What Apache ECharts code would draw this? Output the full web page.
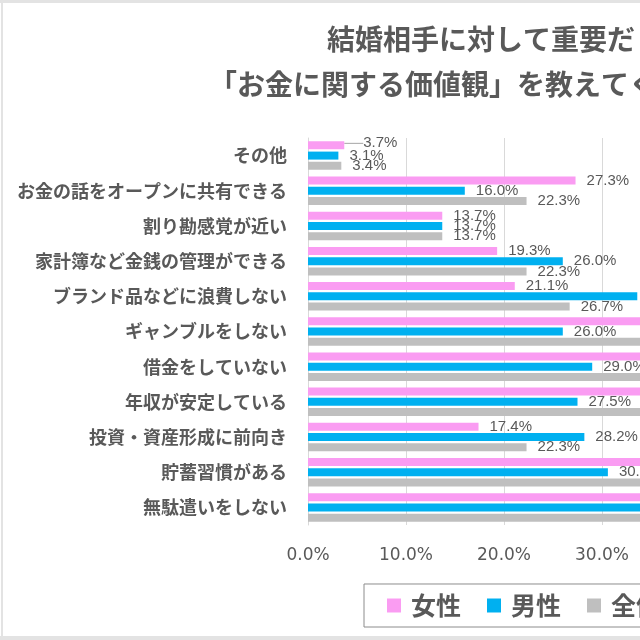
<!DOCTYPE html>
<html>
<head>
<meta charset="utf-8">
<script src="https://cdn.jsdelivr.net/npm/echarts@6/dist/echarts.min.js"></script>
<style>
  body { margin: 0; overflow: hidden; background: #fff; }
  #main { position: absolute; left: 0; top: 0; width: 1000px; height: 640px; }
  .edge { position: absolute; background: #e3e3e3; }
</style>
</head>
<body>
<div id="main"></div>
<div class="edge" style="left:0;top:0;width:640px;height:3px"></div>
<div class="edge" style="left:1px;top:0;width:2px;height:640px"></div>
<div class="edge" style="left:0;top:636px;width:640px;height:4px"></div>
<script>
// categories, top to bottom
var categories = [
    "その他",
    "お金の話をオープンに共有できる",
    "割り勘感覚が近い",
    "家計簿など金銭の管理ができる",
    "ブランド品などに浪費しない",
    "ギャンブルをしない",
    "借金をしていない",
    "年収が安定している",
    "投資・資産形成に前向き",
    "貯蓄習慣がある",
    "無駄遣いをしない"
];
var seriesNames = ["女性", "男性", "全体"];
var female = [3.7, 27.3, 13.7, 19.3, 21.1, 44.0, 42.0, 44.0, 17.4, 45.0, 50.0];
var male   = [3.1, 16.0, 13.7, 26.0, 33.6, 26.0, 29.0, 27.5, 28.2, 30.6, 40.0];
var total  = [3.4, 22.3, 13.7, 22.3, 26.7, 35.0, 35.5, 35.7, 22.3, 37.8, 45.0];
var xTicks = [0, 10, 20, 30, 40, 50, 60];

var colors = ["#FA9CF2", "#00B0F0", "#BFBFBF"];
var textColor = "#595959";

var chart = echarts.init(document.getElementById('main'));

function makeSeries(idx, values) {
    // the small "その他" label of 女性 is pushed aside with a leader line
    var data = values.map(function (v, i) {
        if (idx === 0 && i === 0) {
            return { value: v, labelLine: { show: true } };
        }
        return v;
    });
    return {
        name: seriesNames[idx],
        type: 'bar',
        data: data,
        barWidth: 8,
        barGap: '28%',
        itemStyle: { color: colors[idx] },
        label: {
            show: true,
            position: 'right',
            distance: 11,
            offset: [0, 1],
            color: textColor,
            fontSize: 15,
            fontFamily: 'Liberation Sans, Arial, sans-serif',
            formatter: function (p) { return p.value.toFixed(1) + '%'; }
        },
        labelLine: { show: false, lineStyle: { color: '#A6A6A6', width: 1 } },
        labelLayout: function (p) {
            if (p.seriesIndex === 0 && p.dataIndex === 0) {
                return { dx: 8, dy: -2 };
            }
        }
    };
}

var option = {
    animation: false,
    title: [
        {
            text: '結婚相手に対して重要だ',
            left: 327, top: 25, padding: 0,
            textStyle: { color: textColor, fontSize: 28, fontWeight: 'bold', fontFamily: 'Noto Sans CJK JP' }
        },
        {
            text: '「お金に関する価値観」を教えてく',
            left: 209, top: 70, padding: 0,
            textStyle: { color: textColor, fontSize: 28, fontWeight: 'bold', fontFamily: 'Noto Sans CJK JP' }
        }
    ],
    legend: {
        data: seriesNames,
        left: 364, bottom: 13,
        padding: [9, 20, 9, 23],
        borderColor: '#8c8c8c',
        borderWidth: 1,
        icon: 'rect',
        itemWidth: 14, itemHeight: 14,
        itemGap: 26,
        textStyle: { color: textColor, fontSize: 25, fontWeight: 'bold', fontFamily: 'Noto Sans CJK JP', padding: [0, 0, 0, 5] }
    },
    grid: { left: 308, top: 138, width: 588, height: 387, outerBoundsMode: 'none', containLabel: false },
    xAxis: {
        type: 'value',
        min: xTicks[0], max: xTicks[xTicks.length - 1], interval: 10,
        axisLine: { show: false },
        axisTick: { show: false },
        splitLine: { lineStyle: { color: '#D9D9D9', width: 1 } },
        axisLabel: {
            color: textColor, fontSize: 17, margin: 22,
            fontFamily: 'DejaVu Sans',
            formatter: function (v) { return v.toFixed(1) + '%'; }
        }
    },
    yAxis: {
        type: 'category',
        data: categories,
        inverse: true,
        axisLine: { show: true, lineStyle: { color: '#D9D9D9' } },
        axisTick: { show: false },
        axisLabel: {
            color: textColor, fontSize: 18, fontWeight: 'bold', margin: 21,
            fontFamily: 'Noto Sans CJK JP'
        }
    },
    series: [
        makeSeries(0, female),
        makeSeries(1, male),
        makeSeries(2, total)
    ]
};
chart.setOption(option);
</script>
</body>
</html>
